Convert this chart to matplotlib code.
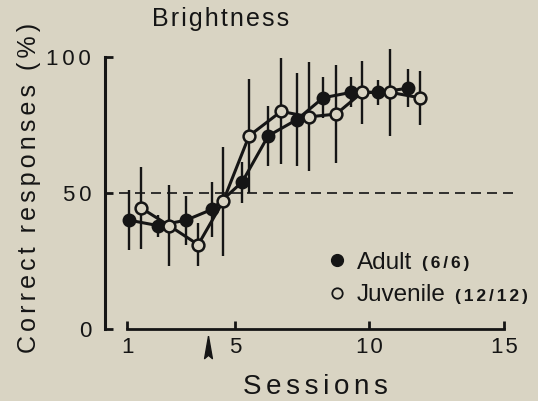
import numpy as np
import matplotlib.pyplot as plt
from matplotlib.lines import Line2D
from matplotlib import transforms

plt.rcParams['font.family'] = ['Liberation Sans', 'DejaVu Sans']

# datos
adult_sessions = [1.08, 2.15, 3.19, 4.16, 5.27, 6.24, 7.31, 8.28, 9.32, 10.32, 11.43]
adult_correct = [40, 38, 40, 44, 54, 71, 77, 85, 87, 87, 88.5]
adult_err = [11, 4, 9, 10, 7.5, 11, 17, 7.5, 5.5, 4.5, 7]

juvenile_sessions = [1.52, 2.56, 3.64, 4.57, 5.53, 6.72, 7.76, 8.76, 9.73, 10.77, 11.88]
juvenile_correct = [44.5, 38, 31, 47, 71, 80, 78, 79, 87, 87, 85]
juvenile_err = [15, 15, 8, 20, 21, 19.5, 20, 18, 11.5, 16, 10]

group_names = ['Adult', 'Juvenile']
group_counts = ['(6/6)', '(12/12)']

session_ticks = [1, 5, 10, 15]
percent_ticks = [0, 50, 100]
chance_level = 50
switch_session = 4  # flecha bajo el eje

BG = '#d9d4c3'
INK = '#151515'


def spaced(text, sep='\u2006'):
    # espaciado entre letras como en la figura original
    return '  '.join(sep.join(w) for w in text.split(' '))


fig = plt.figure(figsize=(5.38, 4.01), dpi=100, facecolor=BG)
ax = fig.add_axes([0.1952, 0.1796, 0.7918, 0.7461])
ax.set_facecolor(BG)

ax.hlines(chance_level, 0.7, 15.4, colors=INK, linewidth=1.2, linestyles=(0, (6, 3.6)))

ax.errorbar(adult_sessions, adult_correct, yerr=adult_err, fmt='-o', color=INK,
            lw=2.2, ms=8.5, mfc=INK, mec=INK, mew=1.5, elinewidth=1.7, capsize=0)
ax.errorbar(juvenile_sessions, juvenile_correct, yerr=juvenile_err, fmt='-o', color=INK,
            lw=2.2, ms=8.5, mfc=BG, mec=INK, mew=1.8, elinewidth=1.7, capsize=0)

ax.set_xlim(0.18, 16)
ax.set_ylim(0, 110)
for side in ['top', 'right']:
    ax.spines[side].set_visible(False)
ax.spines['left'].set_bounds(0, 100)
ax.spines['bottom'].set_bounds(1, 15)
ax.spines['left'].set_linewidth(2.2)
ax.spines['bottom'].set_linewidth(2.0)
ax.spines['left'].set_color(INK)
ax.spines['bottom'].set_color(INK)

ax.set_xticks(session_ticks)
ax.set_xticklabels([spaced(str(t), '\u200a') for t in session_ticks])
ax.set_yticks(percent_ticks)
ax.set_yticklabels([spaced(str(t)) for t in percent_ticks])
ax.tick_params(direction='in', length=6, width=2, colors=INK, labelsize=16)
ax.tick_params(axis='y', pad=10)
ax.tick_params(axis='x', pad=6)

ax.set_xlabel(spaced('Sessions'), fontsize=20, color=INK)
ax.xaxis.set_label_coords(0.493, -0.152)
ax.set_ylabel(spaced('Correct responses (%)'), fontsize=18, color=INK)
ax.yaxis.set_label_coords(-0.151, 0.473)

fig.text(152 / 538, 1 - 26 / 401, spaced('Brightness', '\u200a'), fontsize=18, color=INK,
         ha='left', va='baseline')

# flecha en la sesion de cambio
arrow_verts = [(0, 1), (0.35, -1), (0, -0.7), (-0.35, -1), (0, 1)]
arrow_tr = transforms.offset_copy(ax.transData, fig=fig, y=-13, units='points')
ax.plot([switch_session], [0], ls='none', marker=arrow_verts, ms=16, color=INK,
        transform=arrow_tr, clip_on=False)

handles = [Line2D([], [], ls='none', marker='o', ms=8.5, mfc=INK, mec=INK),
           Line2D([], [], ls='none', marker='o', ms=7.5, mfc=BG, mec=INK, mew=1.3)]
leg = ax.legend(handles, group_names, loc='upper left', bbox_to_anchor=(0.528, 0.259),
                frameon=False, fontsize=17.5, handlelength=0.6, handletextpad=0.5,
                borderpad=0, borderaxespad=0, labelspacing=0.45, labelcolor=INK)
for txt, n in zip(leg.get_texts(), group_counts):
    ax.annotate(spaced(n), xy=(1, 0), xycoords=txt, xytext=(7, 3.8), textcoords='offset points',
                fontsize=12.5, fontweight='bold', va='baseline', color=INK, zorder=6)

fig.savefig('out.png', dpi=100, facecolor=BG)
